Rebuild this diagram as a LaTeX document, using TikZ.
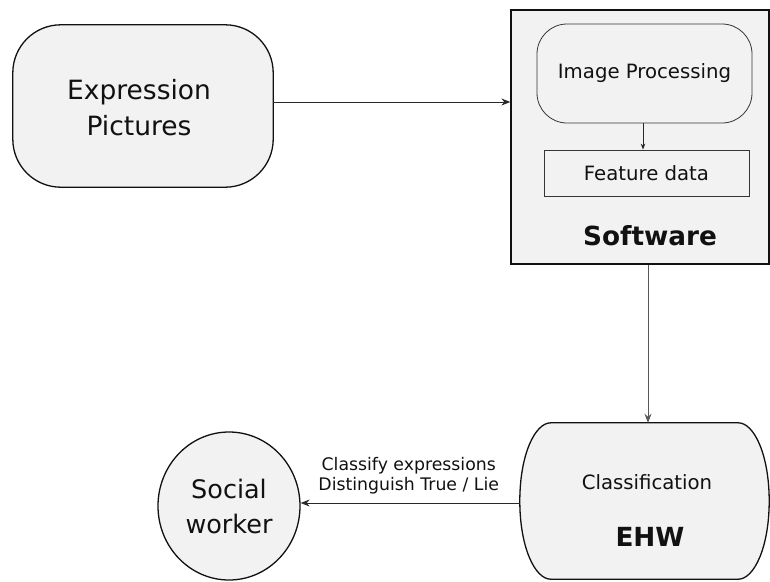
\documentclass[tikz,border=0pt]{standalone}
\usepackage{fontspec}
\setmainfont{DejaVu Sans}
\usetikzlibrary{arrows.meta,shapes.geometric,backgrounds,calc}
\definecolor{shade}{HTML}{F2F2F2}
\definecolor{ink}{HTML}{111111}
\begin{document}
\begin{tikzpicture}[x=1pt,y=-1pt,
  every node/.style={text=ink, align=center, inner sep=0pt},
  outline/.style={draw=ink, line width=1.3pt, fill=shade},
  thinbox/.style={draw=ink!85, line width=0.8pt},
  arr/.style={draw=ink!90, line width=0.9pt, -{Stealth[length=9pt,width=7pt,inset=3pt]}},
  smallarr/.style={draw=ink!90, line width=0.8pt, -{Stealth[length=6pt,width=4.5pt,inset=2pt]}},
  bigtext/.style={font=\fontsize{26.5}{36}\selectfont},
  midtext/.style={font=\fontsize{19.7}{24}\selectfont},
  boldtext/.style={font=\bfseries\fontsize{26.3}{30}\selectfont}]
\useasboundingbox (0,0) rectangle (770,581);

% input block
\node[minimum width=260, minimum height=162] (ep) at (143,106) {};
\node[bigtext] (ept) at (139,108) {Expression\\Pictures};
\begin{pgfonlayer}{background}
  \draw[outline, rounded corners=48pt] (ep.north west) rectangle (ep.south east);
\end{pgfonlayer}

% software block with its two inner steps
\node[draw=ink, line width=1.3pt, fill=shade, minimum width=258, minimum height=254] (sw) at (640,137) {};
\node[thinbox, midtext, rounded corners=30pt, minimum width=215, minimum height=99] (ip) at (644.5,73.5) {Image Processing};
\node[thinbox, midtext, minimum width=205, minimum height=46] (fd) at (646.5,173) {Feature data};
\node[boldtext] (swl) at (650,236) {Software};

% classifier block with bulging, rounded sides
\node[minimum width=249, minimum height=156] (ehw) at (644.5,501) {};
\begin{pgfonlayer}{background}
  \draw[outline]
    ($(ehw.north west)+(31,0)$) -- ($(ehw.north east)+(-31,0)$)
    .. controls ($(ehw.north east)+(-15,0)$) and ($(ehw.east)+(0,-46)$) .. (ehw.east)
    .. controls ($(ehw.east)+(0,46)$) and ($(ehw.south east)+(-15,0)$) .. ($(ehw.south east)+(-31,0)$)
    -- ($(ehw.south west)+(31,0)$)
    .. controls ($(ehw.south west)+(15,0)$) and ($(ehw.west)+(0,46)$) .. (ehw.west)
    .. controls ($(ehw.west)+(0,-46)$) and ($(ehw.north west)+(15,0)$) .. cycle;
\end{pgfonlayer}
\node[midtext] (cls) at (647,482) {Classification};
\node[boldtext] (ehwl) at (650,537) {EHW};

% user
\node[ellipse, outline, font=\fontsize{25.5}{35}\selectfont, minimum width=142, minimum height=148] (soc) at (229,506) {Social\\worker};

% connectors
\draw[arr] (ep.east |- 0,102) -- (sw.west |- 0,102);
\draw[smallarr] (ip.south -| 643,0) -- (fd.north -| 643,0);
\draw[arr, draw=ink!70] (sw.south -| 648,0) -- (ehw.north -| 648,0);
\draw[arr] (ehw.west |- 0,503) -- node[above=8pt, xshift=-1.5pt, font=\fontsize{17.3}{20}\selectfont] {Classify expressions\\Distinguish True / Lie} (soc.east |- 0,503);
\end{tikzpicture}
\end{document}
